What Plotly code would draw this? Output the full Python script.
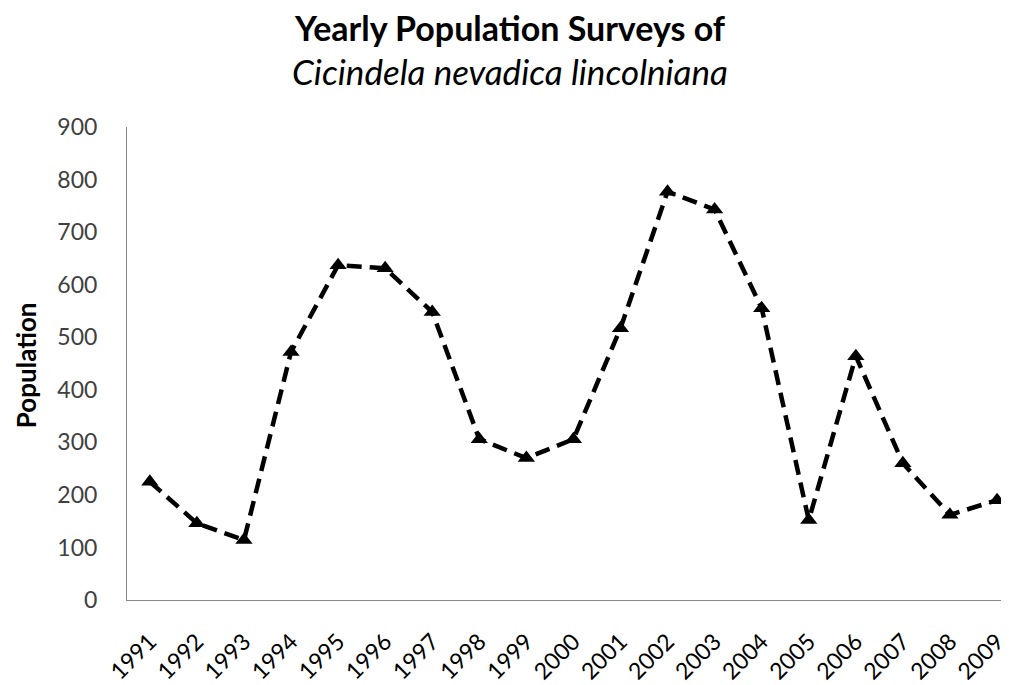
import plotly.graph_objects as go

years = ["1991", "1992", "1993", "1994", "1995", "1996", "1997", "1998", "1999", "2000",
         "2001", "2002", "2003", "2004", "2005", "2006", "2007", "2008", "2009"]
population = [225, 146, 114, 472, 637, 631, 548, 306, 270, 306,
              517, 777, 743, 555, 152, 464, 260, 162, 190]
y_ticks = [0, 100, 200, 300, 400, 500, 600, 700, 800, 900]
title_line1 = "Yearly Population Surveys of"
title_line2 = "Cicindela nevadica lincolniana"
y_title = "Population"

fig = go.Figure()
fig.add_trace(go.Scatter(
    x=years, y=population, mode="lines+markers",
    line=dict(color="black", width=4.5, dash="15px,8px"),
    marker=dict(symbol="triangle-up", size=15, color="black"),
    cliponaxis=False, showlegend=False,
))

FONT = "Lato, Open Sans, sans-serif"
fig.update_layout(
    width=1001, height=677,
    margin=dict(l=119, r=0, t=119, b=85),
    paper_bgcolor="white", plot_bgcolor="white",
    font=dict(family=FONT, color="#404040"),
    annotations=[
        dict(text="<b>" + title_line1 + "</b>", xref="paper", yref="paper",
             x=0.4376, y=1.21, xanchor="center", yanchor="middle", showarrow=False,
             font=dict(size=34, color="black", family=FONT)),
        dict(text="<i>" + title_line2 + "</i>", xref="paper", yref="paper",
             x=0.4376, y=1.118, xanchor="center", yanchor="middle", showarrow=False,
             font=dict(size=35, color="black", family=FONT)),
        dict(text="<b>" + y_title + "</b>", xref="paper", yref="paper",
             x=-0.115, y=0.497, xanchor="center", yanchor="middle", showarrow=False,
             textangle=-90, font=dict(size=26, color="black", family=FONT)),
    ],
)
fig.update_xaxes(
    type="category", range=[-0.485, 18.127],
    showline=True, linecolor="#868686", linewidth=1,
    showgrid=False, ticks="", tickangle=-45, ticklabelstandoff=18,
    tickfont=dict(size=23, color="black"),
)
fig.update_yaxes(
    range=[0, 900], tickvals=y_ticks,
    showline=True, linecolor="#868686", linewidth=1,
    showgrid=False, ticks="", ticklabelstandoff=24,
    tickfont=dict(size=23, color="#404040"),
    zeroline=False,
)

fig.write_html("out.html")
